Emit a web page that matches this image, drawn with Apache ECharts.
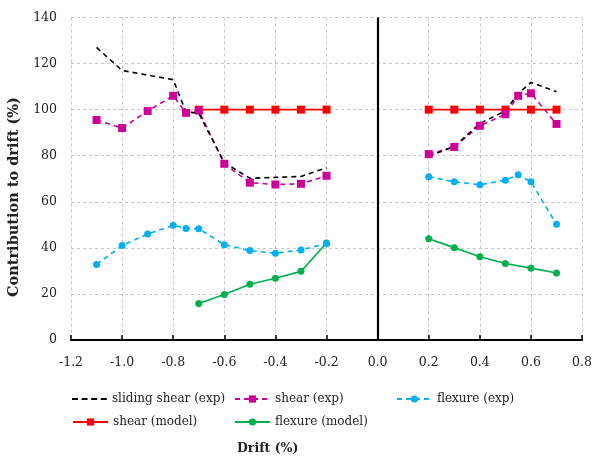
<!DOCTYPE html>
<html>
<head>
<meta charset="utf-8">
<script src="https://cdn.jsdelivr.net/npm/echarts@6/dist/echarts.min.js"></script>
<style>html,body{margin:0;padding:0;background:#fff}#c{width:595px;height:462px}</style>
</head>
<body>
<div id="c"></div>
<script>
// Drift levels (negative and positive loading directions)
const driftNeg = [-1.1, -1.0, -0.9, -0.8, -0.75, -0.7, -0.6, -0.5, -0.4, -0.3, -0.2];
const driftPos = [0.2, 0.3, 0.4, 0.5, 0.55, 0.6, 0.7];
const driftModelNeg = [-0.7, -0.6, -0.5, -0.4, -0.3, -0.2];
const driftModelPos = [0.2, 0.3, 0.4, 0.5, 0.6, 0.7];

// Experimental contributions (%)
const slidingExpNeg = [127, 117, 115, 113, 99, 98.5, 77, 70.2, 70.6, 71, 74.8];
const slidingExpPos = [79.8, 84, 94, 99.5, 107, 111.8, 107.8];
const shearExpNeg = [95.5, 92, 99.4, 106, 98.6, 99.6, 76.5, 68.3, 67.5, 67.8, 71.3];
const shearExpPos = [80.7, 83.8, 93, 98, 106, 107.1, 93.8];
const flexExpNeg = [32.8, 41, 46, 49.8, 48.4, 48.3, 41.4, 38.8, 37.7, 39.1, 41.8];
const flexExpPos = [70.9, 68.7, 67.4, 69.4, 71.7, 68.7, 50.2];

// Model contributions (%)
const shearModelNeg = [100, 100, 100, 100, 100, 100];
const shearModelPos = [100, 100, 100, 100, 100, 100];
const flexModelNeg = [15.8, 19.8, 24.2, 26.8, 29.8, 42.1];
const flexModelPos = [43.9, 40.1, 36.1, 33.2, 31.2, 29.1];

const xTicks = [-1.2, -1.0, -0.8, -0.6, -0.4, -0.2, 0.0, 0.2, 0.4, 0.6, 0.8];

const FONT = 'DejaVu Serif';
const pair = (xs, ys) => xs.map((x, i) => [x, ys[i]]);

const styles = {
  'sliding shear (exp)': { color: '#000000', type: [5, 4], symbol: 'none', size: 0 },
  'shear (exp)': { color: '#CC0099', type: [5, 4], symbol: 'rect', size: 8 },
  'flexure (exp)': { color: '#00B0F0', type: [5, 4], symbol: 'circle', size: 7 },
  'shear (model)': { color: '#FF0000', type: 'solid', symbol: 'rect', size: 8 },
  'flexure (model)': { color: '#00B050', type: 'solid', symbol: 'circle', size: 7 }
};

function mk(name, data) {
  const s = styles[name];
  return {
    name, type: 'line', data,
    symbol: s.symbol, symbolSize: s.size,
    showSymbol: s.symbol !== 'none',
    lineStyle: { color: s.color, width: 1.6, type: s.type },
    itemStyle: { color: s.color },
    emphasis: { disabled: true },
    animation: false, z: 3
  };
}

const series = [
  mk('flexure (model)', pair(driftModelNeg, flexModelNeg)),
  mk('flexure (model)', pair(driftModelPos, flexModelPos)),
  mk('flexure (exp)', pair(driftNeg, flexExpNeg)),
  mk('flexure (exp)', pair(driftPos, flexExpPos)),
  mk('shear (model)', pair(driftModelNeg, shearModelNeg)),
  mk('shear (model)', pair(driftModelPos, shearModelPos)),
  mk('shear (exp)', pair(driftNeg, shearExpNeg)),
  mk('shear (exp)', pair(driftPos, shearExpPos)),
  mk('sliding shear (exp)', pair(driftNeg, slidingExpNeg)),
  mk('sliding shear (exp)', pair(driftPos, slidingExpPos))
];
// zero-drift reference line
series[0].markLine = {
  silent: true, symbol: 'none', label: { show: false },
  lineStyle: { color: '#000', width: 2.2, type: 'solid' },
  data: [{ xAxis: 0 }]
};

const legendText = { fontFamily: FONT, fontSize: 12, color: '#222' };
function legendAt(name, left, top) {
  return {
    data: [name], left, top, itemWidth: 35, itemHeight: 9, itemGap: 5,
    textStyle: legendText, selectedMode: false
  };
}
// dashed-line key without a marker for the sliding-shear entry
const dashIcon = 'path://M0,0H6V2H0Z M9.6,0H15.6V2H9.6Z M19.2,0H25.2V2H19.2Z M28.8,0H34.8V2H28.8Z';

const chart = echarts.init(document.getElementById('c'), null, { renderer: 'canvas' });
chart.setOption({
  backgroundColor: '#fff',
  animation: false,
  grid: { left: 71, right: 12, top: 17.5, bottom: 122 },
  xAxis: {
    type: 'value', min: -1.2, max: 0.8, interval: 0.2,
    axisLine: { onZero: false, lineStyle: { color: '#000', width: 2.2 } },
    axisTick: { inside: true, length: 5, lineStyle: { color: '#000', width: 1.5 } },
    axisLabel: {
      fontFamily: FONT, fontSize: 12.5, color: '#222', margin: 16,
      formatter: v => xTicks.map(t => t.toFixed(1)).find(t => Math.abs(parseFloat(t) - v) < 1e-6) || v.toFixed(1)
    },
    splitLine: { show: true, lineStyle: { color: '#c8c8c8', type: [3, 3], width: 1 } }
  },
  yAxis: {
    type: 'value', min: 0, max: 140, interval: 20,
    axisLine: { show: false }, axisTick: { show: false },
    axisLabel: { fontFamily: FONT, fontSize: 12.5, color: '#222', margin: 14 },
    splitLine: { show: true, lineStyle: { color: '#c8c8c8', type: [3, 3], width: 1 } }
  },
  legend: [
    {
      data: [{ name: 'sliding shear (exp)', icon: dashIcon, itemStyle: { color: '#000' } }],
      left: 67, top: 388, itemWidth: 35, itemHeight: 2, itemGap: 5,
      textStyle: legendText, selectedMode: false
    },
    legendAt('shear (exp)', 229, 388),
    legendAt('flexure (exp)', 391, 388),
    legendAt('shear (model)', 67, 411),
    legendAt('flexure (model)', 229, 411)
  ],
  graphic: [
    { type: 'text', left: 237, top: 442,
      style: { text: 'Drift (%)', font: 'bold 12.5px "DejaVu Serif"', fill: '#222' } },
    { type: 'text', x: 14, y: 197, rotation: Math.PI / 2,
      style: { text: 'Contribution to drift (%)', font: 'bold 14.5px "DejaVu Serif"', fill: '#222',
               align: 'center', verticalAlign: 'middle' } }
  ],
  series
});
</script>
</body>
</html>
